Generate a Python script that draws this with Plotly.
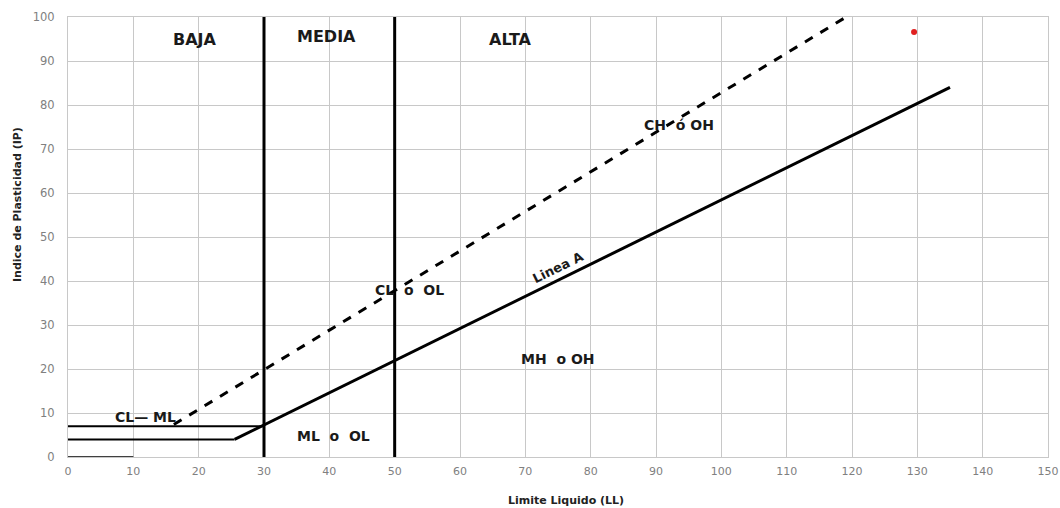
import plotly.graph_objects as go

# Data
linea_a_x = [25.5, 135]
linea_a_y = [4, 84]
linea_u_x = [16.2, 119.1]
linea_u_y = [7.4, 100]
h7_x = [0, 30]
h7_y = [7, 7]
h4_x = [0, 25.5]
h4_y = [4, 4]
h0_x = [0, 10]
h0_y = [0, 0]
v30_x = [30, 30]
v30_y = [0, 100]
v50_x = [50, 50]
v50_y = [0, 100]
punto_x = [129.5]
punto_y = [96.6]

labels = ["BAJA", "MEDIA", "ALTA", "CH  ó OH", "CL  o  OL", "MH  o OH", "ML  o  OL", "CL— ML"]
label_x = [19.5, 39.6, 67.8, 93.5, 52.3, 75.0, 40.7, 11.9]
label_y = [95.0, 95.5, 95.0, 75.5, 38.0, 22.3, 4.7, 9.0]
label_size = [16, 16, 16, 14, 14, 14, 14, 14]

FONT = "DejaVu Sans"

fig = go.Figure()
line_black = "#000000"
for xs, ys, w, d in [
    (linea_a_x, linea_a_y, 3, "solid"),
    (linea_u_x, linea_u_y, 3, "dash"),
    (h7_x, h7_y, 2, "solid"),
    (h4_x, h4_y, 2, "solid"),
    (h0_x, h0_y, 1.5, "solid"),
    (v30_x, v30_y, 3, "solid"),
    (v50_x, v50_y, 3, "solid"),
]:
    fig.add_trace(go.Scatter(x=xs, y=ys, mode="lines", showlegend=False,
                             line=dict(color=line_black, width=w, dash=d),
                             hoverinfo="skip"))

fig.add_trace(go.Scatter(x=punto_x, y=punto_y, mode="markers", showlegend=False,
                         marker=dict(color="#e02020", size=6)))

for t, x, y, s in zip(labels, label_x, label_y, label_size):
    fig.add_annotation(x=x, y=y, text="<b>%s</b>" % t, showarrow=False,
                       font=dict(size=s, color="#1a1a1a", family=FONT))

fig.add_annotation(x=75.0, y=43.0, text="<b>Linea A</b>", textangle=-26, showarrow=False,
                   font=dict(size=13, color="#1a1a1a", family=FONT))

fig.add_annotation(x=(566 - 68) / 980, y=(457 - 500) / 440, xref="paper", yref="paper",
                   xanchor="center", yanchor="middle", text="<b>Limite Liquido (LL)</b>",
                   showarrow=False, font=dict(size=11, color="#222222", family=FONT))

fig.add_annotation(x=(17 - 68) / 980, y=(457 - 205) / 440, xref="paper", yref="paper",
                   xanchor="center", yanchor="middle", textangle=-90,
                   text="<b>Indice de Plasticidad (IP)</b>",
                   showarrow=False, font=dict(size=11, color="#222222", family=FONT))

fig.update_layout(
    width=1060, height=508,
    margin=dict(l=68, r=12, t=17, b=51),
    paper_bgcolor="white", plot_bgcolor="white",
    font=dict(family=FONT, size=11, color="#808080"),
)

fig.update_xaxes(range=[0, 150], dtick=10, tick0=0, showgrid=True, gridcolor="#c8c8c8",
                 gridwidth=1, zeroline=False, showline=True, linecolor="#c8c8c8", mirror=True,
                 ticks="", ticklabelstandoff=4, automargin=False,
                 tickfont=dict(size=11, color="#808080", family=FONT))
fig.update_yaxes(range=[0, 100], dtick=10, tick0=0, showgrid=True, gridcolor="#c8c8c8",
                 gridwidth=1, zeroline=False, showline=True, linecolor="#c8c8c8", mirror=True,
                 ticks="", ticklabelstandoff=10, automargin=False,
                 tickfont=dict(size=11.5, color="#808080", family=FONT))

fig.write_html("out.html", post_script="document.body.style.margin='0';",
               config={"displayModeBar": False})
